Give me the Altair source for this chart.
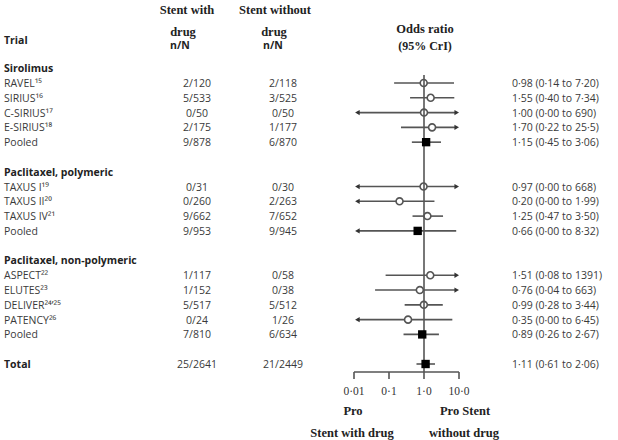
import altair as alt
import pandas as pd

# ---- data -------------------------------------------------------------
trials = ["RAVEL¹⁵", "SIRIUS¹⁶", "C-SIRIUS¹⁷", "E-SIRIUS¹⁸", "Pooled",
          "TAXUS I¹⁹", "TAXUS II²⁰", "TAXUS IV²¹", "Pooled",
          "ASPECT²²", "ELUTES²³", "DELIVER²⁴’²⁵", "PATENCY²⁶", "Pooled",
          "Total"]
rows = [0, 1, 2, 3, 4, 7, 8, 9, 10, 13, 14, 15, 16, 17, 19]
kinds = ["trial", "trial", "trial", "trial", "pooled",
         "trial", "trial", "trial", "pooled",
         "trial", "trial", "trial", "trial", "pooled",
         "total"]
with_drug = ["2/120", "5/533", "0/50", "2/175", "9/878",
             "0/31", "0/260", "9/662", "9/953",
             "1/117", "1/152", "5/517", "0/24", "7/810",
             "25/2641"]
without_drug = ["2/118", "3/525", "0/50", "1/177", "6/870",
                "0/30", "2/263", "7/652", "9/945",
                "0/58", "0/38", "5/512", "1/26", "6/634",
                "21/2449"]
odds = [0.98, 1.55, 1.00, 1.70, 1.15,
        0.97, 0.20, 1.25, 0.66,
        1.51, 0.76, 0.99, 0.35, 0.89,
        1.11]
ci_low = [0.14, 0.40, 0.00, 0.22, 0.45,
          0.00, 0.00, 0.47, 0.00,
          0.08, 0.04, 0.28, 0.00, 0.26,
          0.61]
ci_high = [7.20, 7.34, 690, 25.5, 3.06,
           668, 1.99, 3.50, 8.32,
           1391, 663, 3.44, 6.45, 2.67,
           2.06]

groups = ["Sirolimus", "Paclitaxel, polymeric", "Paclitaxel, non-polymeric"]
group_rows = [-1, 6, 12]

tick_values = [0.01, 0.1, 1.0, 10.0]
tick_labels = ["0·01", "0·1", "1·0", "10·0"]


def fmt(v):
    if v >= 100:
        s = f"{v:.0f}"
    elif v >= 10:
        s = f"{v:.1f}"
    else:
        s = f"{v:.2f}"
    return s.replace(".", "·")


df = pd.DataFrame({
    "trial": trials, "row": rows, "kind": kinds,
    "with_drug": with_drug, "without_drug": without_drug,
    "or": odds, "lo": ci_low, "hi": ci_high,
})
df["label"] = [f"{fmt(o)} ({fmt(l)} to {fmt(h)})" for o, l, h in zip(odds, ci_low, ci_high)]

# intervals running off the plotted range are cut and get an arrowhead
LEFT_LIM, RIGHT_LIM = 0.0125, 8.6
df["lo_plot"] = df["lo"].clip(lower=LEFT_LIM)
df["hi_plot"] = df["hi"].clip(upper=RIGHT_LIM)
left_arrows = df[df["lo"] < 0.01]
right_arrows = df[df["hi"] > 10]

groups_df = pd.DataFrame({"group": groups, "row": group_rows})
ticks_df = pd.DataFrame({"v": tick_values, "lab": tick_labels})

# ---- scales -----------------------------------------------------------
XS = alt.Scale(type="log", domain=[0.01, 10], range=[354, 459])
YS = alt.Scale(domain=[0, 19], range=[83, 364], nice=False, zero=False)

SANS = "Open Sans"
SERIF = "Liberation Serif"
TXT = "#3a3a3a"
LINE = "#555555"

y_row = alt.Y("row:Q", scale=YS, axis=None)

ci_lines = alt.Chart(df).mark_rule(color=LINE, strokeWidth=1.6).encode(
    x=alt.X("lo_plot:Q", scale=XS, axis=None), x2="hi_plot:Q", y=y_row)

arrow_l = alt.Chart(left_arrows).mark_point(
    shape="triangle-left", filled=True, size=28, color="#333", opacity=1).encode(
    x=alt.X("lo_plot:Q", scale=XS, axis=None), y=y_row)
arrow_r = alt.Chart(right_arrows).mark_point(
    shape="triangle-right", filled=True, size=28, color="#333", opacity=1).encode(
    x=alt.X("hi_plot:Q", scale=XS, axis=None), y=y_row)

circles = alt.Chart(df[df["kind"] == "trial"]).mark_point(
    shape="circle", fill="white", stroke=LINE, strokeWidth=1.6,
    size=48, opacity=1, fillOpacity=1).encode(
    x=alt.X("or:Q", scale=XS, axis=None), y=y_row)

ref_line = alt.Chart(pd.DataFrame({"v": [1.0]})).mark_rule(
    color=LINE, strokeWidth=1.6).encode(
    x=alt.X("v:Q", scale=XS, axis=None), y=alt.value(75), y2=alt.value(372))

squares = alt.Chart(df[df["kind"] != "trial"]).mark_square(
    color="black", size=70, opacity=1).encode(
    x=alt.X("or:Q", scale=XS, axis=None), y=y_row)

# ---- bottom axis drawn from the tick list -----------------------------
axis_base = alt.Chart(pd.DataFrame({"a": [tick_values[0]], "b": [tick_values[-1]]})).mark_rule(
    color=LINE, strokeWidth=1.6).encode(
    x=alt.X("a:Q", scale=XS, axis=None), x2="b:Q", y=alt.value(372))
axis_ticks = alt.Chart(ticks_df).mark_rule(color=LINE, strokeWidth=1.6).encode(
    x=alt.X("v:Q", scale=XS, axis=None), y=alt.value(372), y2=alt.value(379))
axis_labels = alt.Chart(ticks_df).mark_text(
    font=SERIF, fontSize=11.5, color="#333", baseline="middle").encode(
    x=alt.X("v:Q", scale=XS, axis=None), y=alt.value(392), text="lab:N")

# ---- table text -------------------------------------------------------
trial_text = alt.Chart(df[df["kind"] != "total"]).mark_text(
    align="left", baseline="middle", font=SANS, fontSize=10.5, color=TXT, dy=1).encode(
    x=alt.value(4), y=y_row, text="trial:N")
total_text = alt.Chart(df[df["kind"] == "total"]).mark_text(
    align="left", baseline="middle", font=SANS, fontSize=10.5, fontWeight="bold",
    color="#222", dy=1).encode(
    x=alt.value(4), y=y_row, text="trial:N")
group_text = alt.Chart(groups_df).mark_text(
    align="left", baseline="middle", font=SANS, fontSize=10.5, fontWeight="bold",
    color="#222", dy=1).encode(
    x=alt.value(4), y=y_row, text="group:N")
with_text = alt.Chart(df).mark_text(
    align="center", baseline="middle", font=SANS, fontSize=10.5, color=TXT, dy=1).encode(
    x=alt.value(197), y=y_row, text="with_drug:N")
without_text = alt.Chart(df).mark_text(
    align="center", baseline="middle", font=SANS, fontSize=10.5, color=TXT, dy=1).encode(
    x=alt.value(283), y=y_row, text="without_drug:N")
ci_text = alt.Chart(df).mark_text(
    align="left", baseline="middle", font=SANS, fontSize=10.5, color=TXT, dy=1).encode(
    x=alt.value(512), y=y_row, text="label:N")


def caption(text, x, y, font=SERIF, size=12.5, weight="bold", align="center", color="#222"):
    return alt.Chart(pd.DataFrame({"t": [text]})).mark_text(
        font=font, fontSize=size, fontWeight=weight, align=align,
        baseline="middle", color=color).encode(
        x=alt.value(x), y=alt.value(y), text="t:N")


headers = [
    caption("Trial", 4, 41, font=SANS, size=10.5, align="left"),
    caption("Stent with", 187, 10),
    caption("drug", 183, 32),
    caption("n/N", 180, 46, font=SANS, size=10.5),
    caption("Stent without", 275, 10),
    caption("drug", 274, 32),
    caption("n/N", 273, 46, font=SANS, size=10.5),
    caption("Odds ratio", 425, 29),
    caption("(95% CrI)", 425, 46, size=12),
    caption("Pro", 353, 411),
    caption("Stent with drug", 352, 433),
    caption("Pro Stent", 465, 411),
    caption("without drug", 464, 433),
]

chart = alt.layer(
    ci_lines, arrow_l, arrow_r, circles, ref_line, squares,
    axis_base, axis_ticks, axis_labels,
    trial_text, total_text, group_text, with_text, without_text, ci_text,
    *headers,
).properties(
    width=618, height=440,
    autosize=alt.AutoSizeParams(type="none"),
    padding=0,
).configure_view(stroke=None)

chart.save("out.html", embed_options={"renderer": "svg", "actions": False})
